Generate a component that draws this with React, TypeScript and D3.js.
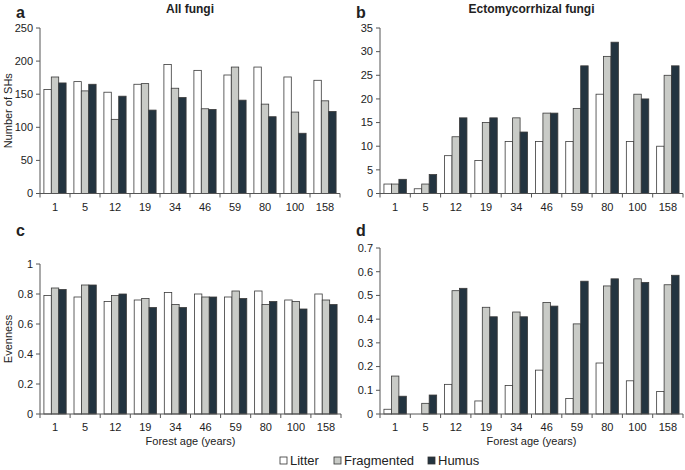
import * as d3 from 'd3';

const ages = ['1', '5', '12', '19', '34', '46', '59', '80', '100', '158'];
const seriesNames = ['Litter', 'Fragmented', 'Humus'];
const seriesFill = ['#ffffff', '#c9cbc7', '#233440'];

// a: number of SHs, all fungi
const allLitter = [157, 169, 153, 165, 195, 186, 179, 191, 176, 171];
const allFrag = [176, 155, 112, 166, 159, 128, 191, 135, 123, 140];
const allHumus = [167, 165, 147, 126, 145, 127, 141, 116, 91, 124];

// b: number of SHs, ectomycorrhizal fungi
const ecmLitter = [2, 1, 8, 7, 11, 11, 11, 21, 11, 10];
const ecmFrag = [2, 2, 12, 15, 16, 17, 18, 29, 21, 25];
const ecmHumus = [3, 4, 16, 16, 13, 17, 27, 32, 20, 27];

// c: evenness, all fungi
const evAllLitter = [0.79, 0.78, 0.75, 0.76, 0.81, 0.8, 0.78, 0.82, 0.76, 0.8];
const evAllFrag = [0.84, 0.86, 0.79, 0.77, 0.73, 0.78, 0.82, 0.73, 0.75, 0.76];
const evAllHumus = [0.83, 0.86, 0.8, 0.71, 0.71, 0.78, 0.77, 0.75, 0.7, 0.73];

// d: evenness, ectomycorrhizal fungi
const evEcmLitter = [0.02, 0, 0.125, 0.055, 0.12, 0.185, 0.065, 0.215, 0.14, 0.095];
const evEcmFrag = [0.16, 0.045, 0.52, 0.45, 0.43, 0.47, 0.38, 0.54, 0.57, 0.545];
const evEcmHumus = [0.075, 0.08, 0.53, 0.41, 0.41, 0.455, 0.56, 0.57, 0.555, 0.585];

const font = '"Liberation Sans", Arial, sans-serif';
const axisColor = '#555';
const textColor = '#222';

interface PanelProps {
  letter: string;
  letterY: number;
  title?: string;
  yLabel?: string;
  xLabel?: string;
  series: number[][];
  yMax: number;
  yTicks: number[];
  yFormat: (v: number) => string;
  left: number;
  right: number;
  bottom: number;
  top: number;
}

const Panel = ({ letter, letterY, title, yLabel, xLabel, series, yMax, yTicks, yFormat, left, right, bottom, top }: PanelProps) => {
  const x = d3.scaleBand<string>().domain(ages).range([left, right]).paddingInner(0.26).paddingOuter(0.13);
  const sub = d3.scaleBand<number>().domain([0, 1, 2]).range([0, x.bandwidth()]);
  const y = d3.scaleLinear().domain([0, yMax]).range([bottom, top]);
  const step = x.step();
  const tickSize = 4;

  return (
    <g fontFamily={font} fill={textColor}>
      <text x={left - 24} y={letterY} fontSize={16} fontWeight="bold">{letter}</text>
      {title && (
        <text x={(left + right) / 2} y={13} fontSize={12} fontWeight="bold" textAnchor="middle">{title}</text>
      )}
      {series.map((vals, si) =>
        vals.map((v, i) =>
          v > 0 ? (
            <rect
              key={`${si}-${i}`}
              x={(x(ages[i]) || 0) + sub(si)!}
              y={y(v)}
              width={sub.bandwidth()}
              height={bottom - y(v)}
              fill={seriesFill[si]}
              stroke="#3a3a3a"
              strokeWidth={0.8}
            />
          ) : null
        )
      )}
      {/* y axis */}
      <line x1={left} x2={left} y1={top} y2={bottom} stroke={axisColor} strokeWidth={1} />
      {yTicks.map((t) => (
        <g key={t}>
          <line x1={left - tickSize} x2={left} y1={y(t)} y2={y(t)} stroke={axisColor} />
          <text x={left - 7} y={y(t)} dy="0.35em" fontSize={11} textAnchor="end">{yFormat(t)}</text>
        </g>
      ))}
      {/* x axis */}
      <line x1={left} x2={right} y1={bottom} y2={bottom} stroke={axisColor} strokeWidth={1} />
      {d3.range(ages.length + 1).map((i) => (
        <line key={i} x1={left + i * step} x2={left + i * step} y1={bottom} y2={bottom + tickSize} stroke={axisColor} />
      ))}
      {ages.map((a) => (
        <text key={a} x={(x(a) || 0) + x.bandwidth() / 2} y={bottom + 17} fontSize={11} textAnchor="middle">{a}</text>
      ))}
      {xLabel && (
        <text x={(left + right) / 2} y={bottom + 31} fontSize={11} textAnchor="middle">{xLabel}</text>
      )}
      {yLabel && (
        <text
          transform={`translate(${left - 28},${(top + bottom) / 2}) rotate(-90)`}
          fontSize={11}
          textAnchor="middle"
        >
          {yLabel}
        </text>
      )}
    </g>
  );
};

const legendX = [280, 334, 428];

const App = () => {
  return (
    <svg width={685} height={470} style={{ position: 'absolute', left: 0, top: 0, background: '#fff' }}>
      <Panel
        letter="a"
        letterY={18}
        title="All fungi"
        yLabel="Number of SHs"
        series={[allLitter, allFrag, allHumus]}
        yMax={250}
        yTicks={[0, 50, 100, 150, 200, 250]}
        yFormat={(v) => String(v)}
        left={40}
        right={340}
        bottom={193.5}
        top={28}
      />
      <Panel
        letter="b"
        letterY={18}
        title="Ectomycorrhizal fungi"
        series={[ecmLitter, ecmFrag, ecmHumus]}
        yMax={35}
        yTicks={[0, 5, 10, 15, 20, 25, 30, 35]}
        yFormat={(v) => String(v)}
        left={380}
        right={683}
        bottom={193.5}
        top={28}
      />
      <Panel
        letter="c"
        letterY={236}
        yLabel="Evenness"
        xLabel="Forest age (years)"
        series={[evAllLitter, evAllFrag, evAllHumus]}
        yMax={1}
        yTicks={[0, 0.2, 0.4, 0.6, 0.8, 1]}
        yFormat={(v) => String(v)}
        left={40}
        right={341}
        bottom={414}
        top={264}
      />
      <Panel
        letter="d"
        letterY={236}
        xLabel="Forest age (years)"
        series={[evEcmLitter, evEcmFrag, evEcmHumus]}
        yMax={0.7}
        yTicks={[0, 0.1, 0.2, 0.3, 0.4, 0.5, 0.6, 0.7]}
        yFormat={(v) => String(+v.toFixed(1))}
        left={380}
        right={683}
        bottom={414}
        top={248}
      />
      <g fontFamily={font} fill={textColor}>
        {seriesNames.map((name, i) => (
          <g key={name}>
            <rect x={legendX[i]} y={457} width={7} height={7} fill={seriesFill[i]} stroke="#333" strokeWidth={0.8} />
            <text x={legendX[i] + 10} y={465} fontSize={13}>{name}</text>
          </g>
        ))}
      </g>
    </svg>
  );
};

export default App;
